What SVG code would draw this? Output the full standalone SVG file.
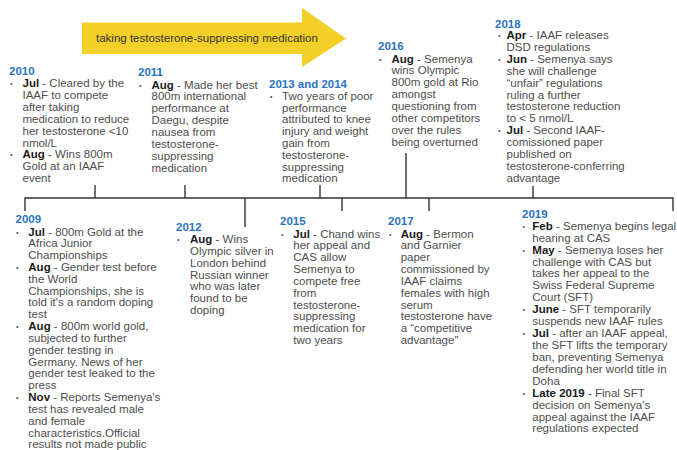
<svg xmlns="http://www.w3.org/2000/svg" width="677" height="450" viewBox="0 0 677 450">
<style>
.t{font-family:"Liberation Sans",Arial,Helvetica,sans-serif;font-size:11.5px;fill:#4d4d4d}
.b{font-weight:bold;fill:#1a1a1a}
.y{font-family:"Liberation Sans",Arial,Helvetica,sans-serif;font-size:11.5px;font-weight:bold;fill:#2a72c4}
.d{font-family:"Liberation Sans",Arial,sans-serif;font-size:7px;fill:#555}
.ln{stroke:#333;stroke-width:1.4;fill:none}
</style>
<rect width="677" height="450" fill="#fff"/>
<g id="arrow">
<polygon points="82,22.5 302,22.5 302,8 346,38.5 302,67 302,54 82,54" fill="#f3d027"/>
<text class="t" x="96" y="42" style="fill:#333">taking testosterone-suppressing medication</text>
</g>
<g id="connectors">
<polyline class="ln" points="25,211 25,198 673,198 673,211"/>
<line class="ln" x1="95" y1="185" x2="95" y2="198"/>
<line class="ln" x1="185" y1="185" x2="185" y2="198"/>
<line class="ln" x1="320" y1="185" x2="320" y2="198"/>
<line class="ln" x1="406" y1="153" x2="406" y2="198"/>
<line class="ln" x1="533" y1="186" x2="533" y2="198"/>
<line class="ln" x1="245" y1="198" x2="245" y2="227"/>
<line class="ln" x1="342" y1="198" x2="342" y2="211"/>
<line class="ln" x1="429" y1="198" x2="429" y2="211"/>
</g>
<g id="e2010">
<text class="y" x="9" y="75">2010</text>
<text class="d" x="10" y="86">•</text>
<text class="d" x="10" y="157.4">•</text>
<text class="t" x="22.5" y="87"><tspan class="b">Jul</tspan> - Cleared by the<tspan x="22.5" dy="11.9">IAAF to compete</tspan><tspan x="22.5" dy="11.9">after taking</tspan><tspan x="22.5" dy="11.9">medication to reduce</tspan><tspan x="22.5" dy="11.9">her testosterone &lt;10</tspan><tspan x="22.5" dy="11.9">nmol/L</tspan><tspan x="22.5" dy="11.9"><tspan class="b">Aug</tspan> - Wins 800m</tspan><tspan x="22.5" dy="11.9">Gold at an IAAF</tspan><tspan x="22.5" dy="11.9">event</tspan></text>
</g>
<g id="e2011">
<text class="y" x="138" y="76">2011</text>
<text class="d" x="139" y="87.5">•</text>
<text class="t" x="151.5" y="88.5"><tspan class="b">Aug</tspan> - Made her best<tspan x="151.5" dy="11.86">800m international</tspan><tspan x="151.5" dy="11.86">performance at</tspan><tspan x="151.5" dy="11.86">Daegu, despite</tspan><tspan x="151.5" dy="11.86">nausea from</tspan><tspan x="151.5" dy="11.86">testosterone-</tspan><tspan x="151.5" dy="11.86">suppressing</tspan><tspan x="151.5" dy="11.86">medication</tspan></text>
</g>
<g id="e2013">
<text class="y" x="269" y="87.5">2013 and 2014</text>
<text class="d" x="270" y="98.8">•</text>
<text class="t" x="282" y="99.8">Two years of poor<tspan x="282" dy="11.8">performance</tspan><tspan x="282" dy="11.8">attributed to knee</tspan><tspan x="282" dy="11.8">injury and weight</tspan><tspan x="282" dy="11.8">gain from</tspan><tspan x="282" dy="11.8">testosterone-</tspan><tspan x="282" dy="11.8">suppressing</tspan><tspan x="282" dy="11.8">medication</tspan></text>
</g>
<g id="e2016">
<text class="y" x="378" y="50">2016</text>
<text class="d" x="379" y="61.5">•</text>
<text class="t" x="391.5" y="62.5"><tspan class="b">Aug</tspan> - Semenya<tspan x="391.5" dy="11.9">wins Olympic</tspan><tspan x="391.5" dy="11.9">800m gold at Rio</tspan><tspan x="391.5" dy="11.9">amongst</tspan><tspan x="391.5" dy="11.9">questioning from</tspan><tspan x="391.5" dy="11.9">other competitors</tspan><tspan x="391.5" dy="11.9">over the rules</tspan><tspan x="391.5" dy="11.9">being overturned</tspan></text>
</g>
<g id="e2018">
<text class="y" x="495" y="27.5">2018</text>
<text class="d" x="498" y="38">•</text>
<text class="d" x="498" y="61.8">•</text>
<text class="d" x="498" y="133.2">•</text>
<text class="t" x="506.5" y="39"><tspan class="b">Apr</tspan> - IAAF releases<tspan x="506.5" dy="11.9">DSD regulations</tspan><tspan x="506.5" dy="11.9"><tspan class="b">Jun</tspan> - Semenya says</tspan><tspan x="506.5" dy="11.9">she will challenge</tspan><tspan x="506.5" dy="11.9">“unfair” regulations</tspan><tspan x="506.5" dy="11.9">ruling a further</tspan><tspan x="506.5" dy="11.9">testosterone reduction</tspan><tspan x="506.5" dy="11.9">to &lt; 5 nmol/L</tspan><tspan x="506.5" dy="11.9"><tspan class="b">Jul</tspan> - Second IAAF-</tspan><tspan x="506.5" dy="11.9">comissioned paper</tspan><tspan x="506.5" dy="11.9">published on</tspan><tspan x="506.5" dy="11.9">testosterone-conferring</tspan><tspan x="506.5" dy="11.9">advantage</tspan></text>
</g>
<g id="e2009">
<text class="y" x="15.5" y="223">2009</text>
<text class="d" x="16" y="234.5">•</text>
<text class="d" x="16" y="270">•</text>
<text class="d" x="16" y="329.2">•</text>
<text class="d" x="16" y="400.2">•</text>
<text class="t" x="28.3" y="235.5"><tspan class="b">Jul</tspan> - 800m Gold at the<tspan x="28.3" dy="11.83">Africa Junior</tspan><tspan x="28.3" dy="11.83">Championships</tspan><tspan x="28.3" dy="11.83"><tspan class="b">Aug</tspan> - Gender test before</tspan><tspan x="28.3" dy="11.83">the World</tspan><tspan x="28.3" dy="11.83">Championships, she is</tspan><tspan x="28.3" dy="11.83">told it's a random doping</tspan><tspan x="28.3" dy="11.83">test</tspan><tspan x="28.3" dy="11.83"><tspan class="b">Aug</tspan> - 800m world gold,</tspan><tspan x="28.3" dy="11.83">subjected to further</tspan><tspan x="28.3" dy="11.83">gender testing in</tspan><tspan x="28.3" dy="11.83">Germany. News of her</tspan><tspan x="28.3" dy="11.83">gender test leaked to the</tspan><tspan x="28.3" dy="11.83">press</tspan><tspan x="28.3" dy="11.83"><tspan class="b">Nov</tspan> - Reports Semenya's</tspan><tspan x="28.3" dy="11.83">test has revealed male</tspan><tspan x="28.3" dy="11.83">and female</tspan><tspan x="28.3" dy="11.83">characteristics.Official</tspan><tspan x="28.3" dy="11.83">results not made public</tspan></text>
</g>
<g id="e2012">
<text class="y" x="176" y="231">2012</text>
<text class="d" x="177" y="242">•</text>
<text class="t" x="190" y="243"><tspan class="b">Aug</tspan> - Wins<tspan x="190" dy="11.85">Olympic silver in</tspan><tspan x="190" dy="11.85">London behind</tspan><tspan x="190" dy="11.85">Russian winner</tspan><tspan x="190" dy="11.85">who was later</tspan><tspan x="190" dy="11.85">found to be</tspan><tspan x="190" dy="11.85">doping</tspan></text>
</g>
<g id="e2015">
<text class="y" x="280" y="225">2015</text>
<text class="d" x="281" y="236.5">•</text>
<text class="t" x="293.3" y="237.5"><tspan class="b">Jul</tspan> - Chand wins<tspan x="293.3" dy="11.85">her appeal and</tspan><tspan x="293.3" dy="11.85">CAS allow</tspan><tspan x="293.3" dy="11.85">Semenya to</tspan><tspan x="293.3" dy="11.85">compete free</tspan><tspan x="293.3" dy="11.85">from</tspan><tspan x="293.3" dy="11.85">testosterone-</tspan><tspan x="293.3" dy="11.85">suppressing</tspan><tspan x="293.3" dy="11.85">medication for</tspan><tspan x="293.3" dy="11.85">two years</tspan></text>
</g>
<g id="e2017">
<text class="y" x="388" y="225">2017</text>
<text class="d" x="389" y="236.5">•</text>
<text class="t" x="400.7" y="237.5"><tspan class="b">Aug</tspan> - Bermon<tspan x="400.7" dy="11.85">and Garnier</tspan><tspan x="400.7" dy="11.85">paper</tspan><tspan x="400.7" dy="11.85">commissioned by</tspan><tspan x="400.7" dy="11.85">IAAF claims</tspan><tspan x="400.7" dy="11.85">females with high</tspan><tspan x="400.7" dy="11.85">serum</tspan><tspan x="400.7" dy="11.85">testosterone have</tspan><tspan x="400.7" dy="11.85">a “competitive</tspan><tspan x="400.7" dy="11.85">advantage”</tspan></text>
</g>
<g id="e2019">
<text class="y" x="522" y="218">2019</text>
<text class="d" x="522.5" y="228.8">•</text>
<text class="d" x="522.5" y="252.6">•</text>
<text class="d" x="522.5" y="312.2">•</text>
<text class="d" x="522.5" y="336.1">•</text>
<text class="d" x="522.5" y="395.7">•</text>
<text class="t" x="532.3" y="229.8"><tspan class="b">Feb</tspan> - Semenya begins legal<tspan x="532.3" dy="11.92">hearing at CAS</tspan><tspan x="532.3" dy="11.92"><tspan class="b">May</tspan> - Semenya loses her</tspan><tspan x="532.3" dy="11.92">challenge with CAS but</tspan><tspan x="532.3" dy="11.92">takes her appeal to the</tspan><tspan x="532.3" dy="11.92">Swiss Federal Supreme</tspan><tspan x="532.3" dy="11.92">Court (SFT)</tspan><tspan x="532.3" dy="11.92"><tspan class="b">June</tspan> - SFT temporarily</tspan><tspan x="532.3" dy="11.92">suspends new IAAF rules</tspan><tspan x="532.3" dy="11.92"><tspan class="b">Jul</tspan> - after an IAAF appeal,</tspan><tspan x="532.3" dy="11.92">the SFT lifts the temporary</tspan><tspan x="532.3" dy="11.92">ban, preventing Semenya</tspan><tspan x="532.3" dy="11.92">defending her world title in</tspan><tspan x="532.3" dy="11.92">Doha</tspan><tspan x="532.3" dy="11.92"><tspan class="b">Late 2019</tspan> - Final SFT</tspan><tspan x="532.3" dy="11.92">decision on Semenya's</tspan><tspan x="532.3" dy="11.92">appeal against the IAAF</tspan><tspan x="532.3" dy="11.92">regulations expected</tspan></text>
</g>
</svg>
